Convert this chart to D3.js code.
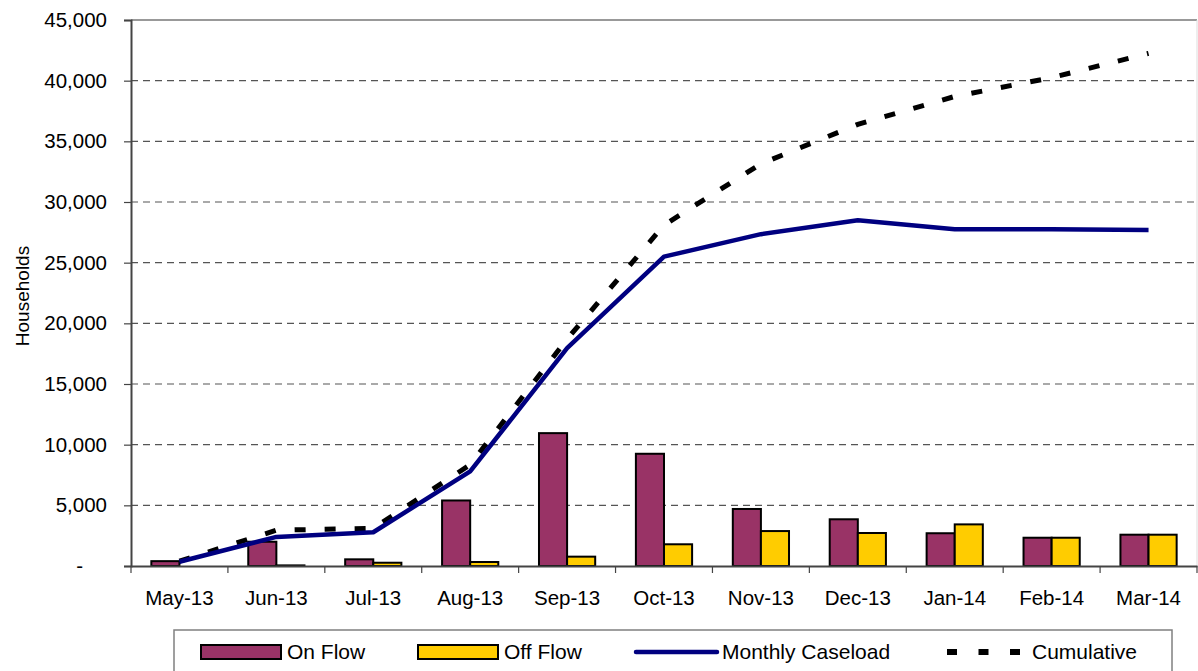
<!DOCTYPE html>
<html>
<head>
<meta charset="utf-8">
<script src="https://cdn.jsdelivr.net/npm/d3@7"></script>
<style>
  html, body { margin: 0; padding: 0; background: #fff; }
  svg { display: block; font-family: "Liberation Sans", Arial, sans-serif; }
</style>
</head>
<body>
<svg id="chart" width="1198" height="671"></svg>
<script>
const months = ["May-13","Jun-13","Jul-13","Aug-13","Sep-13","Oct-13","Nov-13","Dec-13","Jan-14","Feb-14","Mar-14"];
const onFlow  = [400, 2000, 550, 5400, 10950, 9250, 4700, 3850, 2700, 2330, 2580];
const offFlow = [0, 50, 270, 330, 770, 1790, 2880, 2720, 3430, 2330, 2580];
const caseload = [350, 2400, 2780, 7800, 17950, 25500, 27350, 28500, 27750, 27750, 27700];
const cumulative = [400, 2950, 3100, 8350, 18700, 28100, 33150, 36400, 38700, 40250, 42250];
const yTicks = [0, 5000, 10000, 15000, 20000, 25000, 30000, 35000, 40000, 45000];
const seriesNames = ["On Flow", "Off Flow", "Monthly Caseload", "Cumulative"];

const svg = d3.select("#chart");
const pLeft = 131, pRight = 1197, pTop = 20, pBottom = 566;

const x = d3.scaleBand().domain(months).range([pLeft, pRight]).paddingInner(0).paddingOuter(0);
const bw = x.bandwidth();
const x1 = d3.scaleBand().domain(["on", "off"]).range([bw * 0.21, bw * 0.79]).padding(0);
const y = d3.scaleLinear().domain([0, 45000]).range([pBottom, pTop]);

// gridlines
svg.append("g").selectAll("line").data(yTicks.filter(t => t > 0 && t < 45000)).join("line")
  .attr("x1", pLeft).attr("x2", pRight)
  .attr("y1", d => y(d)).attr("y2", d => y(d))
  .attr("stroke", "#555").attr("stroke-width", 1.2).attr("stroke-dasharray", "7,5");

// top & right borders
svg.append("line").attr("x1", pLeft).attr("x2", pRight).attr("y1", y(45000)).attr("y2", y(45000))
  .attr("stroke", "#999").attr("stroke-width", 2);
svg.append("line").attr("x1", pRight).attr("x2", pRight).attr("y1", pTop).attr("y2", pBottom)
  .attr("stroke", "#ddd").attr("stroke-width", 1);

// bars
const data = months.map((m, i) => ({ m, on: onFlow[i], off: offFlow[i] }));
const g = svg.append("g");
g.selectAll("rect.on").data(data).join("rect").attr("class", "on")
  .attr("x", d => x(d.m) + x1("on")).attr("width", x1.bandwidth())
  .attr("y", d => y(d.on)).attr("height", d => y(0) - y(d.on))
  .attr("fill", "#993366").attr("stroke", "#000").attr("stroke-width", 2);
g.selectAll("rect.off").data(data).join("rect").attr("class", "off")
  .attr("x", d => x(d.m) + x1("off")).attr("width", x1.bandwidth())
  .attr("y", d => y(d.off)).attr("height", d => y(0) - y(d.off))
  .attr("fill", "#FFCC00").attr("stroke", "#000").attr("stroke-width", 2);

// lines
const cx = m => x(m) + bw / 2;
const line = d3.line().x(d => cx(d[0])).y(d => y(d[1]));
svg.append("path").datum(months.map((m, i) => [m, cumulative[i]]))
  .attr("d", line).attr("fill", "none").attr("stroke", "#000")
  .attr("stroke-width", 5).attr("stroke-dasharray", "11,19");
svg.append("path").datum(months.map((m, i) => [m, caseload[i]]))
  .attr("d", line).attr("fill", "none").attr("stroke", "#000080")
  .attr("stroke-width", 4.5).attr("stroke-linejoin", "round");

// y axis
const yAxis = d3.axisLeft(y).tickValues(yTicks).tickSizeOuter(0).tickSize(7).tickPadding(17)
  .tickFormat(d => d === 0 ? "-" : d3.format(",")(d));
const ya = svg.append("g").attr("transform", `translate(${pLeft},0)`).call(yAxis);
ya.select(".domain").attr("stroke", "#444").attr("stroke-width", 2);
ya.selectAll(".tick line").attr("stroke", "#444").attr("stroke-width", 1.2);
ya.selectAll(".tick text").attr("font-size", 20.5).attr("fill", "#000")
  .attr("font-family", "'Liberation Sans', Arial, sans-serif")
  .attr("dx", d => d === 0 ? -24 : 0);

// x axis
const xAxis = d3.axisBottom(x).tickSize(0).tickPadding(24).tickSizeOuter(0);
const xa = svg.append("g").attr("transform", `translate(0,${pBottom})`).call(xAxis);
xa.select(".domain").attr("stroke", "#444").attr("stroke-width", 2);
xa.selectAll(".tick text").attr("font-size", 20.5).attr("fill", "#000")
  .attr("font-family", "'Liberation Sans', Arial, sans-serif");
// boundary ticks between categories
svg.append("g").selectAll("line").data(months.concat(["_end"])).join("line")
  .attr("x1", (d, i) => i < months.length ? x(d) : pRight)
  .attr("x2", (d, i) => i < months.length ? x(d) : pRight)
  .attr("y1", pBottom).attr("y2", pBottom + 7)
  .attr("stroke", "#444").attr("stroke-width", 1.2);

// y title
svg.append("text").attr("transform", "translate(29,296) rotate(-90)")
  .attr("text-anchor", "middle").attr("font-size", 19).attr("fill", "#000")
  .text("Households");

// legend
svg.append("rect").attr("x", 174).attr("y", 630).attr("width", 998).attr("height", 80)
  .attr("fill", "#fff").attr("stroke", "#808080").attr("stroke-width", 1.5);
const lg = svg.append("g");
const legY = 652;
lg.append("rect").attr("x", 201).attr("y", 645).attr("width", 80).attr("height", 14)
  .attr("fill", "#993366").attr("stroke", "#000").attr("stroke-width", 2);
lg.append("rect").attr("x", 418).attr("y", 645).attr("width", 80).attr("height", 14)
  .attr("fill", "#FFCC00").attr("stroke", "#000").attr("stroke-width", 2);
lg.append("line").attr("x1", 636).attr("x2", 717).attr("y1", legY).attr("y2", legY)
  .attr("stroke", "#000080").attr("stroke-width", 4.5).attr("stroke-linecap", "round");
lg.append("line").attr("x1", 947).attr("x2", 1021).attr("y1", legY).attr("y2", legY)
  .attr("stroke", "#000").attr("stroke-width", 6).attr("stroke-dasharray", "10,21.5");
const legX = [287, 504, 722, 1032];
lg.selectAll("text").data(seriesNames).join("text")
  .attr("x", (d, i) => legX[i]).attr("y", 659)
  .attr("font-size", 21).attr("fill", "#000").text(d => d);
</script>
</body>
</html>
